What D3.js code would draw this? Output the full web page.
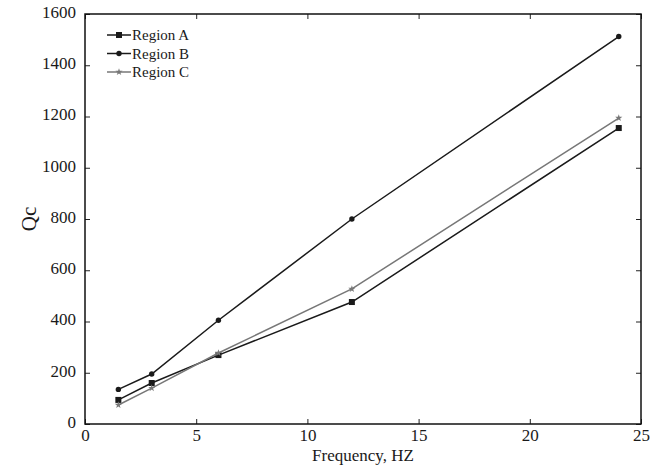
<!DOCTYPE html>
<html><head><meta charset="utf-8">
<script src="https://cdn.jsdelivr.net/npm/d3@7"></script>
<style>body{margin:0;background:#fff}</style>
</head><body>
<svg id="c" width="656" height="468"></svg>
<script>
const freq = [1.5, 3, 6, 12, 24];
const regionA = [94, 160, 269, 476, 1155];
const regionB = [135, 195, 405, 800, 1512];
const regionC = [74, 140, 277, 527, 1194];
const xTicks = [0, 5, 10, 15, 20, 25];
const yTicks = [0, 200, 400, 600, 800, 1000, 1200, 1400, 1600];
const seriesNames = ["Region A", "Region B", "Region C"];

const svg = d3.select("#c");
const L = 85, R = 641, T = 14, B = 424;
const x = d3.scaleLinear().domain([0, 25]).range([L, R]);
const y = d3.scaleLinear().domain([0, 1600]).range([B, T]);
const font = "'Liberation Serif', 'Times New Roman', serif";

const gx = svg.append("g").attr("transform", `translate(0,${B})`)
  .call(d3.axisBottom(x).tickValues(xTicks).tickSize(-5).tickPadding(5).tickFormat(d3.format("d")));
const gxt = svg.append("g").attr("transform", `translate(0,${T})`)
  .call(d3.axisTop(x).tickValues(xTicks).tickSize(-5).tickFormat(""));
const gy = svg.append("g").attr("transform", `translate(${L},0)`)
  .call(d3.axisLeft(y).tickValues(yTicks).tickSize(-5).tickPadding(9).tickFormat(d3.format("d")));
const gyr = svg.append("g").attr("transform", `translate(${R},0)`)
  .call(d3.axisRight(y).tickValues(yTicks).tickSize(-5).tickFormat(""));
[gx, gxt, gy, gyr].forEach(g => {
  g.select(".domain").remove();
  g.selectAll("line").attr("stroke", "#222").attr("stroke-width", 1);
  g.selectAll("text").attr("font-family", font).attr("font-size", 17).attr("fill", "#1a1a1a");
});
gy.selectAll("text").attr("dy", "0.2em");

svg.append("rect").attr("x", L).attr("y", T).attr("width", R - L).attr("height", B - T)
  .attr("fill", "none").attr("stroke", "#111").attr("stroke-width", 1.5);

svg.append("text").attr("x", (L + R) / 2).attr("y", 461).attr("text-anchor", "middle")
  .attr("font-family", font).attr("font-size", 17).attr("fill", "#1a1a1a").text("Frequency, HZ");
svg.append("text").attr("transform", `translate(36,${(T + B) / 2}) rotate(-90)`)
  .attr("text-anchor", "middle").attr("font-family", font).attr("font-size", 21).attr("fill", "#1a1a1a").text("Qc");

const series = [
  {name: seriesNames[0], vals: regionA, color: "#1a1a1a", marker: "square"},
  {name: seriesNames[1], vals: regionB, color: "#1a1a1a", marker: "circle"},
  {name: seriesNames[2], vals: regionC, color: "#777", marker: "star"}
];
const line = d3.line().x(d => x(d[0])).y(d => y(d[1]));

function drawMarker(g, type, cx, cy, color) {
  if (type === "square") {
    g.append("rect").attr("x", cx - 3).attr("y", cy - 3).attr("width", 6).attr("height", 6).attr("fill", color);
  } else if (type === "circle") {
    g.append("circle").attr("cx", cx).attr("cy", cy).attr("r", 2.7).attr("fill", color);
  } else {
    g.append("path").attr("d", d3.symbol(d3.symbolStar, 16)()).attr("transform", `translate(${cx},${cy})`).attr("fill", color);
  }
}

series.forEach(s => {
  const pts = freq.map((f, i) => [f, s.vals[i]]);
  svg.append("path").datum(pts).attr("d", line).attr("fill", "none")
    .attr("stroke", s.color).attr("stroke-width", 1.5);
  const g = svg.append("g");
  pts.forEach(p => drawMarker(g, s.marker, x(p[0]), y(p[1]), s.color));
});

series.forEach((s, i) => {
  const ly = 35 + i * 18.5;
  svg.append("line").attr("x1", 107).attr("x2", 131).attr("y1", ly).attr("y2", ly)
    .attr("stroke", s.color).attr("stroke-width", 1.5);
  drawMarker(svg.append("g"), s.marker, 119, ly, s.color);
  svg.append("text").attr("x", 132).attr("y", ly).attr("dy", "0.35em")
    .attr("font-family", font).attr("font-size", 15).attr("fill", "#1a1a1a").text(s.name);
});
</script>
</body></html>
